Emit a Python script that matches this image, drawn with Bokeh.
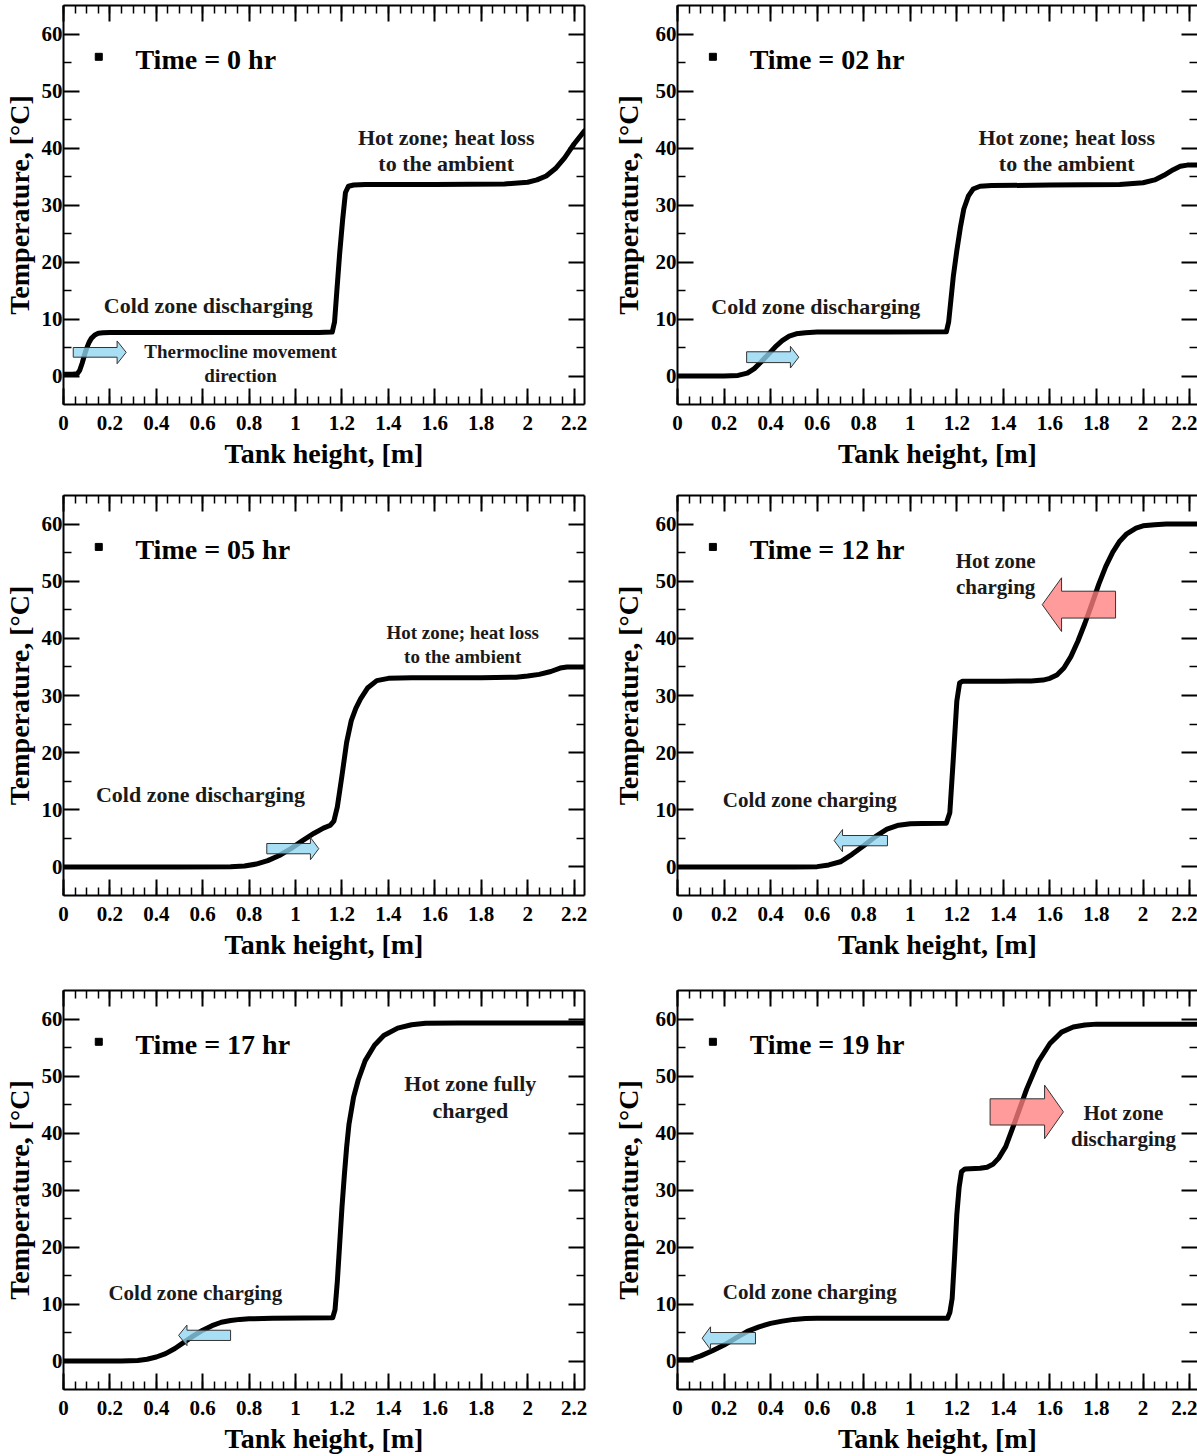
from bokeh.plotting import figure
from bokeh.models import LinearAxis, FixedTicker, CustomJSTickFormatter, Range1d
from bokeh.layouts import column, row
from bokeh.core.properties import value
from bokeh.embed import file_html
from bokeh.resources import INLINE

# ---------------- data ----------------
# Time = 0 hr
x_t00 = [0, 0.04, 0.06, 0.07, 0.08, 0.09, 0.10, 0.11, 0.12, 0.135, 0.15, 0.17, 0.20, 0.6, 1.1, 1.158,
         1.168, 1.178, 1.19, 1.203, 1.215, 1.228, 1.25, 1.3, 1.6, 1.9, 2.0, 2.04, 2.08, 2.12, 2.16, 2.2, 2.245]
T_t00 = [0.3, 0.3, 0.4, 1.0, 2.2, 3.6, 4.9, 5.9, 6.6, 7.2, 7.5, 7.6, 7.65, 7.65, 7.65, 7.7,
         9.5, 15.0, 21.5, 27.5, 32.2, 33.3, 33.5, 33.6, 33.6, 33.7, 34.0, 34.4, 35.1, 36.4, 38.3, 40.7, 43.0]

# Time = 02 hr
x_t02 = [0, 0.2, 0.26, 0.3, 0.33, 0.36, 0.39, 0.42, 0.45, 0.48, 0.51, 0.55, 0.6, 0.9, 1.155, 1.165, 1.175,
         1.185, 1.2, 1.215, 1.23, 1.25, 1.27, 1.3, 1.35, 1.6, 1.9, 2.0, 2.05, 2.09, 2.13, 2.16, 2.19, 2.232]
T_t02 = [0, 0, 0.1, 0.5, 1.3, 2.5, 3.8, 5.1, 6.2, 7.0, 7.4, 7.6, 7.7, 7.7, 7.75, 9.5, 13.5,
         17.5, 22.0, 26.0, 29.3, 31.6, 32.8, 33.3, 33.4, 33.5, 33.6, 33.9, 34.4, 35.2, 36.2, 36.8, 37.0, 37.0]

# Time = 05 hr
x_t05 = [0, 0.5, 0.72, 0.78, 0.83, 0.88, 0.93, 0.98, 1.03, 1.08, 1.12, 1.15, 1.165, 1.18, 1.2, 1.22,
         1.24, 1.26, 1.28, 1.31, 1.35, 1.4, 1.5, 1.8, 1.95, 2.0, 2.05, 2.1, 2.14, 2.17, 2.245]
T_t05 = [0, 0, 0.02, 0.15, 0.5, 1.1, 2.0, 3.2, 4.6, 5.9, 6.8, 7.3, 8.0, 10.5, 16.0, 21.8,
         25.6, 27.8, 29.4, 31.3, 32.6, 33.0, 33.1, 33.1, 33.2, 33.4, 33.7, 34.2, 34.8, 35.0, 35.0]

# Time = 12 hr
x_t12 = [0, 0.5, 0.6, 0.65, 0.7, 0.75, 0.8, 0.85, 0.9, 0.95, 1.0, 1.05, 1.155, 1.17, 1.185, 1.2, 1.212,
         1.225, 1.4, 1.52, 1.57, 1.6, 1.63, 1.66, 1.69, 1.72, 1.75, 1.78, 1.81, 1.84, 1.87, 1.9, 1.93,
         1.97, 2.0, 2.05, 2.1, 2.232]
T_t12 = [0, 0, 0.05, 0.35, 0.9, 2.2, 3.7, 5.3, 6.6, 7.3, 7.55, 7.6, 7.65, 9.5, 19.0, 29.0, 32.2,
         32.5, 32.5, 32.55, 32.7, 33.0, 33.6, 34.8, 36.8, 39.5, 42.6, 46.0, 49.5, 52.6, 55.1, 57.0, 58.3,
         59.3, 59.7, 59.9, 60.0, 60.0]

# Time = 17 hr
x_t17 = [0, 0.25, 0.32, 0.36, 0.4, 0.44, 0.48, 0.52, 0.56, 0.6, 0.64, 0.68, 0.72, 0.76, 0.8, 0.9,
         1.16, 1.17, 1.18, 1.19, 1.2, 1.21, 1.22, 1.23, 1.25, 1.27, 1.3, 1.34, 1.38, 1.44, 1.5, 1.56,
         1.7, 2.245]
T_t17 = [0, 0, 0.1, 0.3, 0.7, 1.3, 2.2, 3.3, 4.4, 5.4, 6.2, 6.8, 7.1, 7.3, 7.4, 7.5,
         7.6, 9.0, 14.0, 20.5, 27.0, 32.5, 37.5, 41.5, 46.3, 49.3, 52.7, 55.4, 57.1, 58.4, 59.0, 59.25,
         59.3, 59.3]

# Time = 19 hr
x_t19 = [0, 0.05, 0.1, 0.15, 0.2, 0.25, 0.3, 0.35, 0.4, 0.45, 0.5, 0.55, 0.6, 1.16, 1.17, 1.18, 1.19,
         1.2, 1.21, 1.22, 1.235, 1.3, 1.33, 1.355, 1.38, 1.41, 1.45, 1.5, 1.55, 1.6, 1.65, 1.7, 1.75,
         1.8, 2.232]
T_t19 = [0.2, 0.2, 0.9, 1.8, 2.8, 4.0, 5.2, 6.0, 6.6, 7.0, 7.3, 7.45, 7.5, 7.5, 8.5, 11.0, 18.0,
         25.7, 30.5, 33.2, 33.7, 33.8, 34.0, 34.5, 35.6, 37.6, 42.0, 47.7, 52.5, 55.7, 57.7, 58.6, 58.95,
         59.1, 59.1]

x_major = [0, 0.2, 0.4, 0.6, 0.8, 1.0, 1.2, 1.4, 1.6, 1.8, 2.0, 2.2]
x_minor = [round(0.05 * i, 2) for i in range(0, 46)]
y_major = [0, 10, 20, 30, 40, 50, 60]
y_minor = [5, 15, 25, 35, 45, 55]

FONT = "Liberation Serif"
BLUE = "#8fd6f2"
RED = "#ff7f7f"

panels = [
    dict(x=x_t00, T=T_t00, title="Time = 0 hr", side="L", row=0,
         texts=[("Hot zone; heat loss", 1.649, 41.9, "22px"), ("to the ambient", 1.649, 37.2, "22px"),
                ("Cold zone discharging", 0.624, 12.3, "22px"),
                ("Thermocline movement", 0.763, 4.3, "19px"), ("direction", 0.763, 0.1, "19px")],
         arrows=[(0.042, 0.231, 0.27, 4.15, 0.85, 2.0, BLUE)]),
    dict(x=x_t02, T=T_t02, title="Time = 02 hr", side="R", row=0,
         texts=[("Hot zone; heat loss", 1.672, 41.9, "22px"), ("to the ambient", 1.672, 37.2, "22px"),
                ("Cold zone discharging", 0.594, 12.2, "22px")],
         arrows=[(0.297, 0.485, 0.521, 3.3, 0.95, 1.9, BLUE)]),
    dict(x=x_t05, T=T_t05, title="Time = 05 hr", side="L", row=1,
         texts=[("Hot zone; heat loss", 1.72, 41.1, "19px"), ("to the ambient", 1.72, 36.9, "19px"),
                ("Cold zone discharging", 0.59, 12.6, "22px")],
         arrows=[(0.876, 1.064, 1.1, 3.2, 0.9, 1.95, BLUE)]),
    dict(x=x_t12, T=T_t12, title="Time = 12 hr", side="R", row=1,
         texts=[("Hot zone", 1.367, 53.5, "21px"), ("charging", 1.367, 49.0, "21px"),
                ("Cold zone charging", 0.568, 11.7, "21px")],
         arrows=[(0.902, 0.709, 0.673, 4.6, 0.9, 1.95, BLUE),
                 (1.882, 1.65, 1.567, 45.9, 2.35, 4.7, RED)]),
    dict(x=x_t17, T=T_t17, title="Time = 17 hr", side="L", row=2,
         texts=[("Hot zone fully", 1.753, 48.6, "22px"), ("charged", 1.753, 43.9, "22px"),
                ("Cold zone charging", 0.568, 11.9, "21px")],
         arrows=[(0.72, 0.532, 0.496, 4.5, 0.9, 1.8, BLUE)]),
    dict(x=x_t19, T=T_t19, title="Time = 19 hr", side="R", row=2,
         texts=[("Hot zone", 1.916, 43.5, "21px"), ("discharging", 1.916, 38.9, "21px"),
                ("Cold zone charging", 0.568, 12.1, "21px")],
         arrows=[(0.335, 0.142, 0.106, 4.0, 1.0, 2.0, BLUE),
                 (1.343, 1.577, 1.658, 43.7, 2.3, 4.7, RED)]),
]

row_heights = [490, 495, 471]
row_bottoms = [86, 90, 67]

fmt = CustomJSTickFormatter(code="return (Math.round(tick*10)/10).toString();")


def style_axis(ax, is_x, labels=True, line=True, ylab_standoff=4):
    ax.ticker = FixedTicker(ticks=x_major if is_x else y_major, minor_ticks=x_minor if is_x else y_minor)
    ax.major_tick_in = 16
    ax.major_tick_out = 0
    ax.minor_tick_in = 8
    ax.minor_tick_out = 0
    ax.major_tick_line_width = 2
    ax.minor_tick_line_width = 1.5
    ax.major_tick_line_color = "black"
    ax.minor_tick_line_color = "black"
    ax.axis_line_width = 2
    ax.axis_line_color = "black" if line else None
    if labels:
        ax.formatter = fmt
        ax.major_label_text_font = FONT
        ax.major_label_text_font_style = "bold"
        ax.major_label_text_font_size = "21px"
        ax.major_label_text_color = "black"
        ax.major_label_standoff = 11 if is_x else 1
        ax.axis_label_text_font = FONT
        ax.axis_label_text_font_style = "bold"
        ax.axis_label_text_font_size = "28px"
        ax.axis_label_text_color = "black"
        ax.axis_label_standoff = 5 if is_x else ylab_standoff
    else:
        ax.major_label_text_font_size = "1px"
        ax.major_label_text_color = None
        ax.major_label_standoff = 0
        ax.axis_label = None


figs = []
for pnl in panels:
    left = pnl["side"] == "L"
    h = row_heights[pnl["row"]]
    xend = 2.245 if left else 2.234
    p = figure(width=600 if left else 597, height=h,
               x_range=Range1d(0, xend), y_range=Range1d(-5, 65),
               output_backend="svg", toolbar_location=None,
               min_border_left=63 if left else 77, min_border_right=16 if left else 0,
               min_border_top=5, min_border_bottom=row_bottoms[pnl["row"]],
               x_axis_label="Tank height, [m]", y_axis_label="Temperature, [°C]")
    p.grid.visible = False
    p.outline_line_color = None
    p.background_fill_color = "white"
    p.border_fill_color = "white"
    style_axis(p.xaxis[0], True)
    style_axis(p.yaxis[0], False, ylab_standoff=4 if left else 9)
    top = LinearAxis()
    style_axis(top, True, labels=False)
    p.add_layout(top, "above")
    rgt = LinearAxis()
    style_axis(rgt, False, labels=False, line=left)
    p.add_layout(rgt, "right")

    p.line(pnl["x"], pnl["T"], line_width=5, line_color="black", line_join="round", line_cap="round")

    for (xt, xb, xtip, yc, bh, hh, col) in pnl["arrows"]:
        xs = [xt, xb, xb, xtip, xb, xb, xt]
        ys = [yc - bh, yc - bh, yc - hh, yc, yc + hh, yc + bh, yc + bh]
        p.patch(xs, ys, fill_color=col, fill_alpha=0.78, line_color="#333333", line_width=1)

    p.scatter([0.152], [56.0], marker="square", size=7, color="black")
    p.text([0.31], [55.6], text=[pnl["title"]], text_font=value(FONT), text_font_style="bold",
           text_font_size="28px", text_align="left", text_baseline="middle", text_color="black")
    for (t, tx, ty, fs) in pnl["texts"]:
        p.text([tx], [ty], text=[t], text_font=value(FONT), text_font_style="bold",
               text_font_size=fs, text_align="center", text_baseline="middle", text_color="#1a1a1a")
    figs.append(p)

layout = column(row(figs[0], figs[1]), row(figs[2], figs[3]), row(figs[4], figs[5]))
open("out.html", "w").write(file_html(layout, INLINE))
